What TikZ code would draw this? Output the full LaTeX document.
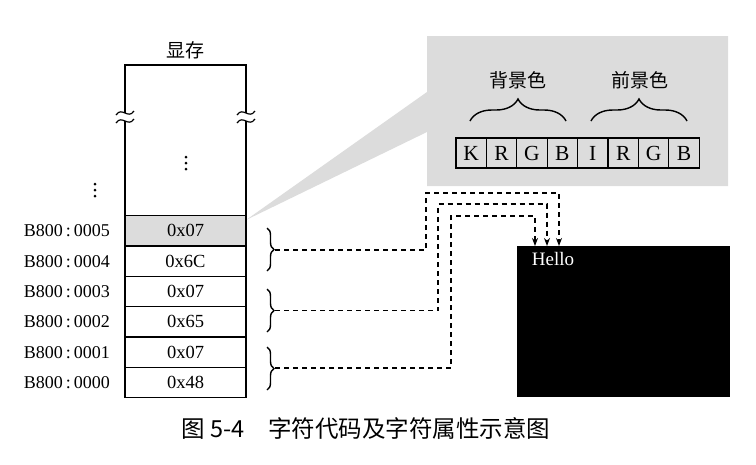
\documentclass[tikz,border=0pt]{standalone}
\usepackage{fontspec}
\setmainfont{Liberation Serif}
\newfontfamily\cjk{Noto Sans CJK SC}
\usepackage{tikz}
\usetikzlibrary{arrows.meta}
\usetikzlibrary{decorations.pathreplacing}
\usetikzlibrary{positioning}
\tikzset{cell/.style = {draw, line width = 1.3, minimum width = 121, minimum height = 30.3, inner sep = 0, font = \fontsize{18.5}{20}\selectfont}}
\tikzset{addr/.style = {anchor = east, inner sep = 0, font = \fontsize{18}{20}\selectfont}}
\tikzset{bit/.style = {draw, fill = lgray, line width = 1.2, minimum width = 30.4, minimum height = 30, inner sep = 0, font = \fontsize{21.5}{24}\selectfont}}
\tikzset{lbl/.style = {inner sep = 0, font = \cjk\fontsize{19}{20}\selectfont}}
\tikzset{bigbrace/.style = {decorate, decoration = {brace, amplitude = 22pt}, line width = 1.4}}
\tikzset{smallbrace/.style = {decorate, decoration = {brace, amplitude = 7pt}, line width = 1.4}}
\tikzset{link/.style = {dash pattern = on 5pt off 4pt, line width = 1.3, -{Stealth[length = 8pt, width = 6pt]}}}
\tikzset{dot/.style = {fill, circle, inner sep = 0, minimum size = 3}}
\definecolor{lgray}{RGB}{220, 220, 220}

\begin{document}
\begin{tikzpicture}[x = 1pt, y = -1pt]
    \useasboundingbox (0, 0) rectangle (756, 464);
    \fill [lgray] (246, 220) -- (427, 92) -- (427, 36) -- (728, 36) -- (728, 186) -- (427, 186) -- (427, 132) -- cycle;

    \node [lbl] (vram) at (185.5, 50) {显存};
    \draw [line width = 1.3] (125, 216) -- (125, 121);
    \draw [line width = 1.3] (125, 113) -- (125, 65) -- (246, 65) -- (246, 113);
    \draw [line width = 1.3] (246, 121) -- (246, 216);
    \foreach \x in {125, 246}
      \foreach \y in {113, 121}
        \draw [line width = 1.2] (\x - 9, \y + 2) .. controls (\x - 3, \y - 7) and (\x + 3, \y + 7) .. (\x + 9, \y - 2);

    \node [dot] (d1) at (186, 157) {};
    \node [dot] (d2) at (186, 163) {};
    \node [dot] (d3) at (186, 169) {};
    \node [dot] (e1) at (95, 184) {};
    \node [dot] (e2) at (95, 190) {};
    \node [dot] (e3) at (95, 196) {};

    \node [cell, fill = lgray] (m5) at (185.5, 230.9) {0x07};
    \node [cell] (m4) at (185.5, 261.2) {0x6C};
    \node [cell] (m3) at (185.5, 291.5) {0x07};
    \node [cell] (m2) at (185.5, 321.9) {0x65};
    \node [cell] (m1) at (185.5, 352.2) {0x07};
    \node [cell] (m0) at (185.5, 382.5) {0x48};

    \node [addr] (a5) at (110, 230.9) {B800\,:\,0005};
    \node [addr] (a4) at (110, 261.2) {B800\,:\,0004};
    \node [addr] (a3) at (110, 291.5) {B800\,:\,0003};
    \node [addr] (a2) at (110, 321.9) {B800\,:\,0002};
    \node [addr] (a1) at (110, 352.2) {B800\,:\,0001};
    \node [addr] (a0) at (110, 382.5) {B800\,:\,0000};

    \node [bit] (k) at (471.2, 153) {K};
    \node [bit] (r1) at (501.6, 153) {R};
    \node [bit] (g1) at (532.0, 153) {G};
    \node [bit] (b1) at (562.4, 153) {B};
    \node [bit] (i) at (592.8, 153) {I};
    \node [bit] (r2) at (623.2, 153) {R};
    \node [bit] (g2) at (653.6, 153) {G};
    \node [bit] (b2) at (684.0, 153) {B};

    \draw [bigbrace] (470, 121) -- (566, 121);
    \draw [bigbrace] (591, 121) -- (687, 121);
    \node [lbl] (bg) at (518, 80) {背景色};
    \node [lbl] (fg) at (640, 80) {前景色};

    \draw [smallbrace] (267, 228) -- (267, 271);
    \draw [smallbrace] (267, 289) -- (267, 332);
    \draw [smallbrace] (267, 347) -- (267, 390);
    \coordinate (t1) at (275, 250);
    \coordinate (t2) at (275, 310.5);
    \coordinate (t3) at (275, 368);

    \node [fill, minimum width = 213, minimum height = 151, inner sep = 0, anchor = north west] (scr) at (517, 246) {};
    \node [white, inner sep = 0, font = \fontsize{19}{20}\selectfont] (hello) at (553, 259) {Hello};
    \coordinate (h1) at (559, 246);
    \coordinate (h2) at (547, 246);
    \coordinate (h3) at (535, 246);

    \draw [link] (t1) -| (426, 193) -| (h1);
    \draw [link] (t2) -| (438, 204) -| (h2);
    \draw [link] (t3) -| (451, 216) -| (h3);

    \node [font = \cjk\fontsize{23.5}{26}\selectfont] (cap) at (366, 428) {图 5-4\quad 字符代码及字符属性示意图};
  \end{tikzpicture}
\end{document}
